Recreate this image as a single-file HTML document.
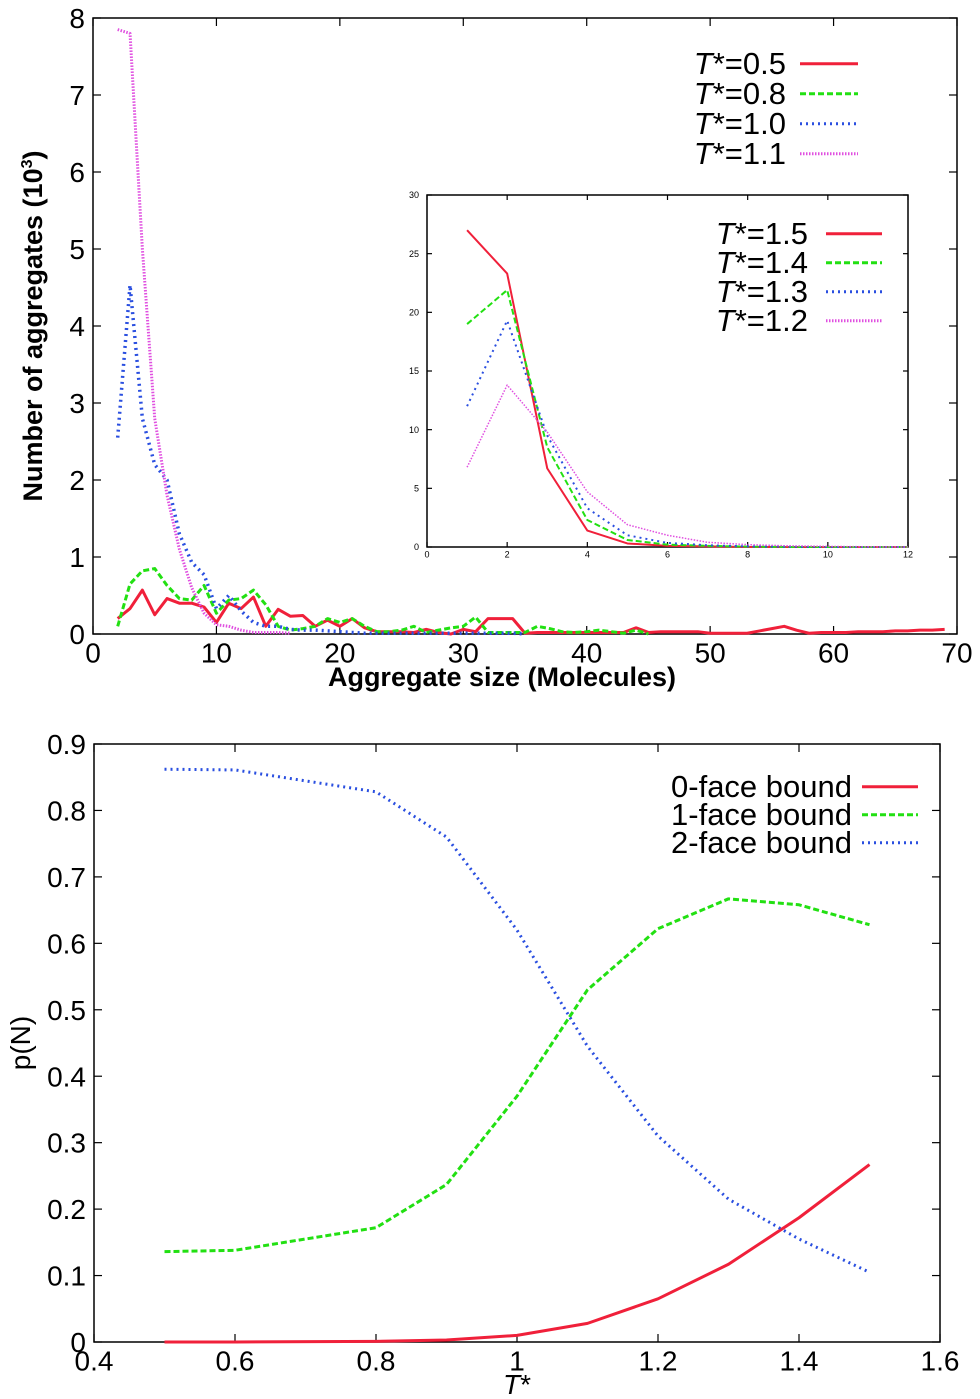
<!DOCTYPE html>
<html><head><meta charset="utf-8"><style>
body{margin:0;background:#fff;width:980px;height:1399px;overflow:hidden}
svg{display:block;font-family:"Liberation Sans",sans-serif}
</style></head><body>
<svg id="s" width="980" height="1399"></svg>
<script>
// ---- Top chart data ----
const topX = [2,3,4,5,6,7,8,9,10,11,12,13,14,15,16,17,18,19,20,21,22,23,24,25,26,27,28,29,30,31,32,33,34,35,36,37,38,39,40,41,42,43,44,45,46,47,48,49,50,51,52,53,54,55,56,57,58,59,60,61,62,63,64,65,66,67,68,69];
const t05 = [0.2,0.33,0.57,0.25,0.46,0.4,0.4,0.35,0.15,0.4,0.33,0.48,0.1,0.32,0.23,0.24,0.1,0.18,0.1,0.2,0.08,0.03,0.03,0.03,0.02,0.06,0.02,0,0.06,0.03,0.2,0.2,0.2,0.01,0.02,0.02,0.02,0.02,0.02,0.02,0.02,0.02,0.08,0.02,0.03,0.03,0.03,0.03,0.01,0.01,0.01,0.01,0.04,0.07,0.1,0.05,0.01,0.02,0.02,0.02,0.03,0.03,0.03,0.04,0.04,0.05,0.05,0.06];
const t08X = [2,3,4,5,6,7,8,9,10,11,12,13,14,15,16,17,18,19,20,21,22,23,24,25,26,27,28,29,30,31,32,33,34,35,36,37,38,39,40,41,42,43,44,45];
const t08 = [0.1,0.65,0.82,0.85,0.63,0.46,0.44,0.63,0.27,0.44,0.46,0.57,0.38,0.1,0.05,0.07,0.1,0.2,0.15,0.2,0.1,0.03,0.03,0.05,0.1,0.02,0.05,0.08,0.1,0.22,0.02,0.02,0.02,0.02,0.1,0.07,0.03,0.02,0.03,0.05,0.03,0.01,0.05,0];
const t10X = [2,3,4,5,6,7,8,9,10,11,12,13,14,15,16,17,18,19,20,21,22,23,24,25,26,27,28,29,30,31,32,33,34,35];
const t10 = [2.55,4.53,2.8,2.2,2.0,1.3,0.93,0.77,0.33,0.5,0.3,0.15,0.1,0.1,0.06,0.05,0.05,0.04,0.03,0.02,0.01,0.01,0.01,0.01,0.01,0.01,0.01,0.01,0.01,0.01,0.01,0.01,0.01,0];
const t11X = [2,3,4,5,6,7,8,9,10,11,12,13,14,15,16];
const t11 = [7.85,7.8,5.0,2.8,1.8,1.1,0.6,0.27,0.12,0.1,0.05,0.02,0.02,0.02,0.01];
const topXTicks = [0,10,20,30,40,50,60,70];
const topYTicks = [0,1,2,3,4,5,6,7,8];
// ---- Inset data ----
const insX = [1,2,3,4,5,6,7,8,9,10,11,12];
const i15 = [27,23.3,6.7,1.4,0.3,0.1,0.05,0,0,0,0,0];
const i14 = [19,21.9,8.5,2.3,0.6,0.2,0.1,0.03,0,0,0,0];
const i13 = [12,19.3,9.5,3.3,1.0,0.35,0.15,0.05,0.02,0,0,0];
const i12 = [6.8,13.8,9.8,4.7,1.9,1.0,0.4,0.2,0.1,0.05,0.02,0];
const insXTicks = [0,2,4,6,8,10,12];
const insYTicks = [0,5,10,15,20,25,30];
// ---- Bottom chart data ----
const botX = [0.5,0.6,0.8,0.9,1.0,1.1,1.2,1.3,1.4,1.5];
const face0 = [0,0,0.001,0.003,0.01,0.028,0.065,0.117,0.187,0.267];
const face1 = [0.136,0.138,0.172,0.237,0.37,0.53,0.622,0.667,0.658,0.628];
const face2 = [0.862,0.861,0.828,0.76,0.62,0.445,0.31,0.215,0.155,0.105];
const botXTicks = [0.4,0.6,0.8,1,1.2,1.4,1.6];
const botYTicks = [0,0.1,0.2,0.3,0.4,0.5,0.6,0.7,0.8,0.9];

const NS="http://www.w3.org/2000/svg", S=document.getElementById('s');
function el(tag,attrs,parent,text){const e=document.createElementNS(NS,tag);for(const k in attrs)e.setAttribute(k,attrs[k]);if(text!==undefined)e.textContent=text;(parent||S).appendChild(e);return e;}
const RED='#f0203a',GRN='#22e012',BLU='#2a4fe0',MAG='#e050e0';
const styles={red:{stroke:RED,w:3,d:''},grn:{stroke:GRN,w:3,d:'6,3'},blu:{stroke:BLU,w:3,d:'2,4'},mag:{stroke:MAG,w:3,d:'1.5,1.5'}};
function axes(name,x0,x1,y0,y1,fx,fy,xt,yt,fs,tl,xfmt,yfmt){
  const g=el('g',{});
  el('rect',{x:x0,y:y0,width:x1-x0,height:y1-y0,fill:'none',stroke:'#000','stroke-width':1.5},g);
  xt.forEach(v=>{const x=fx(v);el('line',{x1:x,x2:x,y1:y1,y2:y1-tl,stroke:'#000','stroke-width':1.2},g);el('line',{x1:x,x2:x,y1:y0,y2:y0+tl,stroke:'#000','stroke-width':1.2},g);
    const t=el('text',{x:x,y:y1+fs*0.95+2,'font-size':fs,'text-anchor':'middle'},g,xfmt(v));});
  yt.forEach(v=>{const y=fy(v);el('line',{x1:x0,x2:x0+tl,y1:y,y2:y,stroke:'#000','stroke-width':1.2},g);el('line',{x1:x1,x2:x1-tl,y1:y,y2:y,stroke:'#000','stroke-width':1.2},g);
    const t=el('text',{x:x0-8,y:y+fs*0.36,'font-size':fs,'text-anchor':'end'},g,yfmt(v));});
}
function series(name,xs,ys,fx,fy,st,w){
  const p=el('polyline',{points:xs.map((x,i)=>fx(x)+','+fy(ys[i])).join(' '),fill:'none',stroke:st.stroke,'stroke-width':w||st.w,'stroke-dasharray':st.d,'stroke-linejoin':'round'});
  
}
function legend(x,y,dy,fs,items,lx,lw,w,anchor){
  items.forEach((it,i)=>{const yy=y+i*dy;
    const t=el('text',{x:x,y:yy,'font-size':fs,'text-anchor':anchor||'end'},S);
    if(it.T){el('tspan',{'font-style':'italic'},t,'T');el('tspan',{},t,'*='+it.label);}else t.textContent=it.label;
    
    const l=el('line',{x1:lx,x2:lx+lw,y1:yy-fs*0.33,y2:yy-fs*0.33,stroke:it.st.stroke,'stroke-width':w||it.st.w,'stroke-dasharray':it.st.d});
    });
}
// Top chart
{const x0=93,x1=957,y0=18,y1=634;
 const fx=v=>x0+(v-0)*(x1-x0)/70, fy=v=>y1-v*(y1-y0)/8;
 axes('top',x0,x1,y0,y1,fx,fy,topXTicks,topYTicks,28,8,v=>String(v),v=>String(v));
 series('series-t0.5',topX,t05,fx,fy,styles.red);
 series('series-t0.8',t08X,t08,fx,fy,styles.grn);
 series('series-t1.0',t10X,t10,fx,fy,styles.blu,3.5);
 series('series-t1.1',t11X,t11,fx,fy,styles.mag);
 // inset
 const a0=427,a1=908,b0=195,b1=547;
 const gx=v=>a0+v*(a1-a0)/12, gy=v=>b1-v*(b1-b0)/30;
 el('rect',{x:a0,y:b0,width:a1-a0,height:b1-b0,fill:'#fff'});
 axes('inset',a0,a1,b0,b1,gx,gy,insXTicks,insYTicks,9,5,v=>String(v),v=>String(v));
 series('inset-t1.5',insX,i15,gx,gy,styles.red,2);
 series('inset-t1.4',insX,i14,gx,gy,styles.grn,2);
 series('inset-t1.3',insX,i13,gx,gy,styles.blu,2);
 series('inset-t1.2',insX,i12,gx,gy,styles.mag,1.5);
 legend(808,244,29,31,[{T:1,label:'1.5',st:styles.red},{T:1,label:'1.4',st:styles.grn},{T:1,label:'1.3',st:styles.blu},{T:1,label:'1.2',st:styles.mag}],826,56,3);
 legend(786,74,30,31,[{T:1,label:'0.5',st:styles.red},{T:1,label:'0.8',st:styles.grn},{T:1,label:'1.0',st:styles.blu},{T:1,label:'1.1',st:styles.mag}],800,58,3);
 const xt=el('text',{x:502,y:686,'font-size':27,'font-weight':'bold','text-anchor':'middle'},S,'Aggregate size (Molecules)');
 const yt=el('text',{x:0,y:0,'font-size':27,'font-weight':'bold','text-anchor':'middle',transform:'translate(42,326) rotate(-90)'},S);
 el('tspan',{},yt,'Number of aggregates (10');el('tspan',{'font-size':16,dy:-10},yt,'3');el('tspan',{dy:10},yt,')');
 }
// Bottom chart
{const x0=94,x1=940,y0=744,y1=1342;
 const fx=v=>x0+(v-0.4)*(x1-x0)/1.2, fy=v=>y1-v*(y1-y0)/0.9;
 axes('bottom',x0,x1,y0,y1,fx,fy,botXTicks,botYTicks,28,8,v=>String(+v.toFixed(1)),v=>v===0?'0':v.toFixed(1));
 series('series-0-face',botX,face0,fx,fy,styles.red);
 series('series-1-face',botX,face1,fx,fy,styles.grn);
 series('series-2-face',botX,face2,fx,fy,styles.blu);
 legend(852,797,28,31,[{label:'0-face bound',st:styles.red},{label:'1-face bound',st:styles.grn},{label:'2-face bound',st:styles.blu}],862,56,3);
 const xt=el('text',{x:517,y:1394,'font-size':28,'text-anchor':'middle'},S);el('tspan',{'font-style':'italic'},xt,'T');el('tspan',{},xt,'*');
 
 const yt=el('text',{x:0,y:0,'font-size':28,'text-anchor':'middle',transform:'translate(30,1043) rotate(-90)'},S,'p(N)');
 }
</script>
</body></html>
